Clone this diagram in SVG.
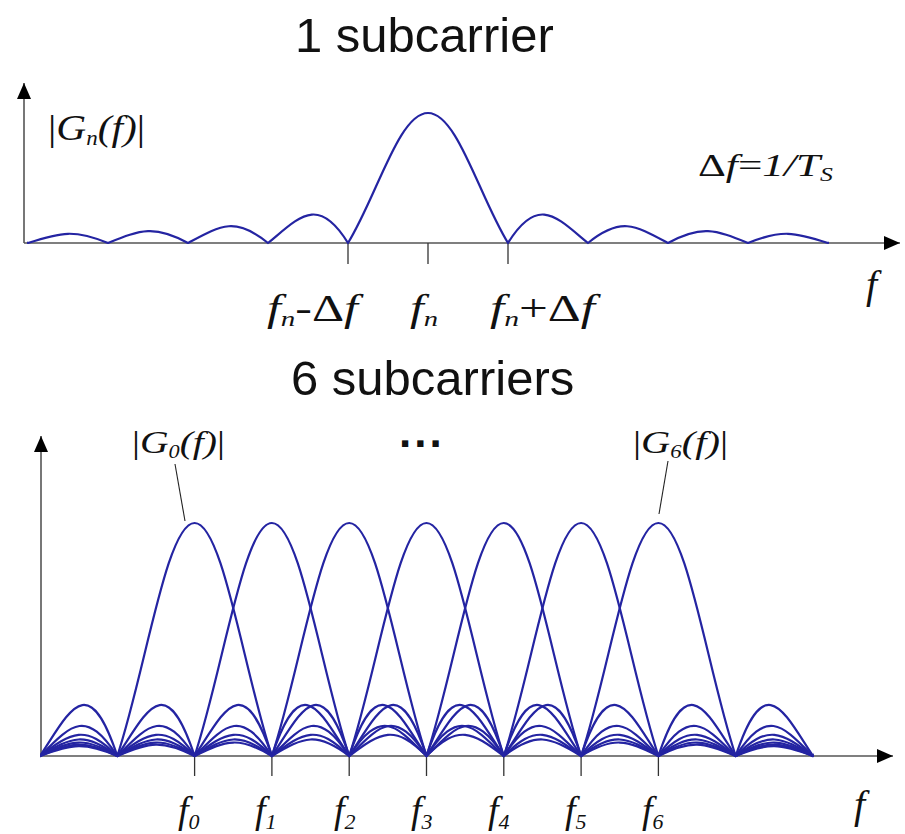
<svg xmlns="http://www.w3.org/2000/svg" xmlns:xlink="http://www.w3.org/1999/xlink" width="905" height="834" viewBox="0 0 905 834">
<style>
.title{font-family:"Liberation Sans",Arial,sans-serif;font-size:49px;fill:#111}
.math{font-family:"Liberation Serif","Times New Roman",serif;font-style:italic;fill:#111}
.up{font-style:normal}
.axis{stroke:#555;stroke-width:1.6;fill:none}
.tick{stroke:#333;stroke-width:1.3}
.curve{fill:none;stroke:#2424a2;stroke-width:2.2;stroke-linejoin:round}
.lead{stroke:#222;stroke-width:1.1;fill:none}
</style>
<defs>
<marker id="arr" markerUnits="userSpaceOnUse" markerWidth="16" markerHeight="14" refX="16" refY="7" orient="auto">
<path d="M0,0 L16,7 L0,14 z" fill="#000"/>
</marker>
<path id="sinc" class="curve" vector-effect="non-scaling-stroke" d="M-800 0 C-758 -5.25,-742 -6,-700 0 C-658 -6,-642 -7,-600 0 C-558 -7,-542 -8.4,-500 0 C-458 -8.4,-442 -10.5,-400 0 C-358.5 -10.375,-341.5 -13.83,-300 0 C-259 -13.67,-241 -20.5,-200 0 C-162 -19,-138 -38,-100 0 C-63.6 -36.4,-36.4 -100,0 -100 C36.4 -100,63.6 -36.4,100 0 C138 -38,162 -19,200 0 C241 -20.5,259 -13.67,300 0 C341.5 -13.83,358.5 -10.375,400 0 C442 -10.5,458 -8.4,500 0 C542 -8.4,558 -7,600 0 C642 -7,658 -6,700 0 C742 -6,758 -5.25,800 0"/>
<clipPath id="clipTop" clipPathUnits="userSpaceOnUse"><rect x="27" y="60" width="802" height="190"/></clipPath>
<clipPath id="clipBot" clipPathUnits="userSpaceOnUse"><rect x="40" y="480" width="773.5" height="280"/></clipPath>
</defs>
<rect width="905" height="834" fill="#fff"/>

<g id="title-1"><text class="title" x="295" y="52">1 subcarrier</text></g>
<g id="title-6"><text class="title" x="291" y="395">6 subcarriers</text></g>

<g id="plot1-axes">
<line class="axis" x1="24" y1="243" x2="24" y2="83" marker-end="url(#arr)"/>
<line class="axis" x1="24" y1="243" x2="900" y2="243" marker-end="url(#arr)"/>
<line class="tick" x1="348" y1="243" x2="348" y2="264"/>
<line class="tick" x1="428" y1="243" x2="428" y2="264"/>
<line class="tick" x1="508" y1="243" x2="508" y2="264"/>
</g>
<g id="plot1-curve" clip-path="url(#clipTop)">
<use xlink:href="#sinc" transform="translate(428,243) scale(0.8,1.3)"/>
</g>
<g id="plot1-labels">
<text class="math" x="48" y="140" font-size="36" textLength="97" lengthAdjust="spacingAndGlyphs"><tspan class="up">|</tspan>G<tspan font-size="20" dy="5">n</tspan><tspan dy="-5">(f)</tspan><tspan class="up">|</tspan></text>
<text class="math" x="698" y="176" font-size="32" textLength="135" lengthAdjust="spacingAndGlyphs"><tspan class="up">Δ</tspan>f<tspan class="up">=</tspan>1/T<tspan font-size="19" dy="5">S</tspan></text>
<text class="math" x="267" y="321" font-size="38" textLength="91" lengthAdjust="spacingAndGlyphs">f<tspan font-size="22" dy="5">n</tspan><tspan class="up" dy="-5">-Δ</tspan>f</text>
<text class="math" x="410" y="321" font-size="38" textLength="28" lengthAdjust="spacingAndGlyphs">f<tspan font-size="22" dy="5">n</tspan></text>
<text class="math" x="490" y="321" font-size="38" textLength="105" lengthAdjust="spacingAndGlyphs">f<tspan font-size="22" dy="5">n</tspan><tspan class="up" dy="-5">+Δ</tspan>f</text>
<text class="math" x="866" y="298" font-size="40">f</text>
</g>

<g id="plot2-axes">
<line class="axis" x1="41" y1="756" x2="41" y2="436" marker-end="url(#arr)"/>
<line class="axis" x1="40" y1="756" x2="893" y2="756" marker-end="url(#arr)"/>
<line class="tick" x1="194.6" y1="756" x2="194.6" y2="776"/>
<line class="tick" x1="271.9" y1="756" x2="271.9" y2="776"/>
<line class="tick" x1="349.2" y1="756" x2="349.2" y2="776"/>
<line class="tick" x1="426.5" y1="756" x2="426.5" y2="776"/>
<line class="tick" x1="503.8" y1="756" x2="503.8" y2="776"/>
<line class="tick" x1="581.1" y1="756" x2="581.1" y2="776"/>
<line class="tick" x1="658.4" y1="756" x2="658.4" y2="776"/>
</g>
<g id="plot2-curves" clip-path="url(#clipBot)">
<use xlink:href="#sinc" transform="translate(194.6,756) scale(0.773,2.33)"/>
<use xlink:href="#sinc" transform="translate(271.9,756) scale(0.773,2.33)"/>
<use xlink:href="#sinc" transform="translate(349.2,756) scale(0.773,2.33)"/>
<use xlink:href="#sinc" transform="translate(426.5,756) scale(0.773,2.33)"/>
<use xlink:href="#sinc" transform="translate(503.8,756) scale(0.773,2.33)"/>
<use xlink:href="#sinc" transform="translate(581.1,756) scale(0.773,2.33)"/>
<use xlink:href="#sinc" transform="translate(658.4,756) scale(0.773,2.33)"/>
</g>
<g id="plot2-labels">
<text class="math" x="132" y="453" font-size="32" textLength="93" lengthAdjust="spacingAndGlyphs"><tspan class="up">|</tspan>G<tspan font-size="18" dy="5">0</tspan><tspan dy="-5">(f)</tspan><tspan class="up">|</tspan></text>
<text class="math" x="633" y="453" font-size="32" textLength="95" lengthAdjust="spacingAndGlyphs"><tspan class="up">|</tspan>G<tspan font-size="18" dy="5">6</tspan><tspan dy="-5">(f)</tspan><tspan class="up">|</tspan></text>
<text x="399" y="447" font-family="Liberation Sans,Arial,sans-serif" font-weight="bold" font-size="44" letter-spacing="3" fill="#111">...</text>
<text class="math" x="178" y="823" font-size="38">f<tspan font-size="22" dy="6">0</tspan></text>
<text class="math" x="255" y="823" font-size="38">f<tspan font-size="22" dy="6">1</tspan></text>
<text class="math" x="334" y="823" font-size="38">f<tspan font-size="22" dy="6">2</tspan></text>
<text class="math" x="411" y="823" font-size="38">f<tspan font-size="22" dy="6">3</tspan></text>
<text class="math" x="488" y="823" font-size="38">f<tspan font-size="22" dy="6">4</tspan></text>
<text class="math" x="565" y="823" font-size="38">f<tspan font-size="22" dy="6">5</tspan></text>
<text class="math" x="642" y="823" font-size="38">f<tspan font-size="22" dy="6">6</tspan></text>
<text class="math" x="854" y="818" font-size="40">f</text>
</g>

<g id="connectors">
<line class="lead" x1="175" y1="464" x2="185" y2="521"/>
<line class="lead" x1="668" y1="461" x2="659" y2="514"/>
</g>
</svg>
